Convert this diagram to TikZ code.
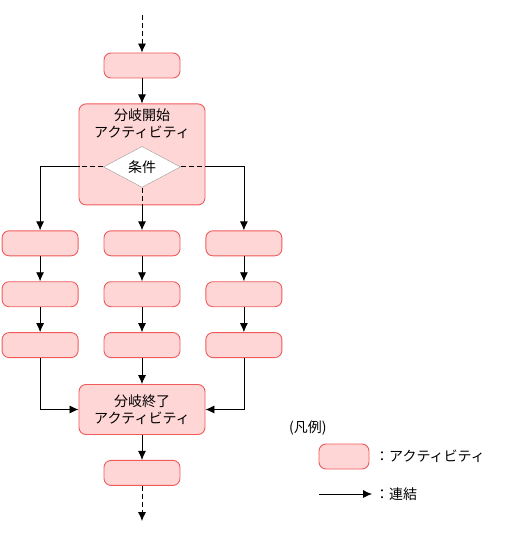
\documentclass[tikz,border=0pt]{standalone}
\usepackage{fontspec}
\setmainfont{Noto Sans CJK JP}
\usepackage{tikz}
\usetikzlibrary{arrows.meta,positioning,shapes.geometric}
\definecolor{actfill}{HTML}{FFD6D6}
\definecolor{actline}{HTML}{F05A5A}
\definecolor{condline}{HTML}{999999}

\begin{document}
\begin{tikzpicture}[x=1pt,y=-1pt,font=\fontsize{14}{17}\selectfont,node distance=25pt]
  \tikzset{act/.style={draw=actline, fill=actfill, line width=0.9pt, rounded corners=7pt, minimum width=76pt, minimum height=25pt, inner sep=0pt}, bigact/.style={act, minimum width=126pt, align=center}, cond/.style={diamond, draw=condline, fill=white, minimum width=77pt, minimum height=39pt, inner sep=0pt}, flow/.style={-{Latex[length=9pt,width=8pt]}, line width=0.8pt}, dashflow/.style={flow, dash pattern=on 5pt off 3pt}}
  \useasboundingbox (0,0) rectangle (524,537);
  % start
  \coordinate (top) at (142,15);
  \node[act] (a0) at (142,65.5) {};
  % fork
  \node[bigact, minimum height=101pt, below=25pt of a0] (fork) {};
  \node[align=center, inner sep=0pt, below=5pt of fork.north] (forktxt) {分岐開始\\アクティビティ};
  \node[cond] (cond) at ([yshift=-12.5pt]fork.center) {条件};
  % three branches
  \node[act, below=25pt of fork] (m1) {};
  \node[act, left=25pt of m1] (l1) {};
  \node[act, right=25pt of m1] (r1) {};
  \node[act, below=of l1] (l2) {};
  \node[act, below=of m1] (m2) {};
  \node[act, below=of r1] (r2) {};
  \node[act, below=of l2] (l3) {};
  \node[act, below=of m2] (m3) {};
  \node[act, below=of r2] (r3) {};
  % merge
  \node[bigact, minimum height=50pt, below=26pt of m3] (merge) {分岐終了\\アクティビティ};
  \node[act, below=25pt of merge] (a9) {};
  \coordinate (bot) at (142,521);
  % connectors
  \draw[dashflow] (top) -- (a0);
  \draw[flow] (a0) -- (fork);
  \coordinate (fl) at (cond.west -| fork.west);
  \coordinate (fr) at (cond.east -| fork.east);
  \draw[line width=0.8pt, dash pattern=on 5pt off 3pt] (cond.west) -- (fl);
  \draw[line width=0.8pt, dash pattern=on 5pt off 3pt] (cond.east) -- (fr);
  \draw[line width=0.8pt, dash pattern=on 5pt off 3pt] (cond.south) -- (fork.south);
  \draw[flow] (fl) -| (l1.north);
  \draw[flow] (fr) -| (r1.north);
  \draw[flow] (fork.south) -- (m1);
  \draw[flow] (l1) -- (l2);
  \draw[flow] (l2) -- (l3);
  \draw[flow] (m1) -- (m2);
  \draw[flow] (m2) -- (m3);
  \draw[flow] (r1) -- (r2);
  \draw[flow] (r2) -- (r3);
  \draw[flow] (l3.south) |- (merge.west);
  \draw[flow] (m3) -- (merge);
  \draw[flow] (r3.south) |- (merge.east);
  \draw[flow] (merge) -- (a9);
  \draw[dashflow] (a9) -- (bot);
  % legend
  \node[anchor=west, inner sep=0pt] (lgtitle) at (289,428) {(凡例)};
  \node[act, minimum width=50pt] (lgact) at (344,456.5) {};
  \node[anchor=west, inner sep=0pt] (lgacttxt) at (375,456.5) {：アクティビティ};
  \coordinate (lgs) at (319,494);
  \coordinate (lge) at (372,494);
  \node[anchor=west, inner sep=0pt] (lgflowtxt) at (375,494) {：連結};
  \draw[flow] (lgs) -- (lge);
\end{tikzpicture}
\end{document}
